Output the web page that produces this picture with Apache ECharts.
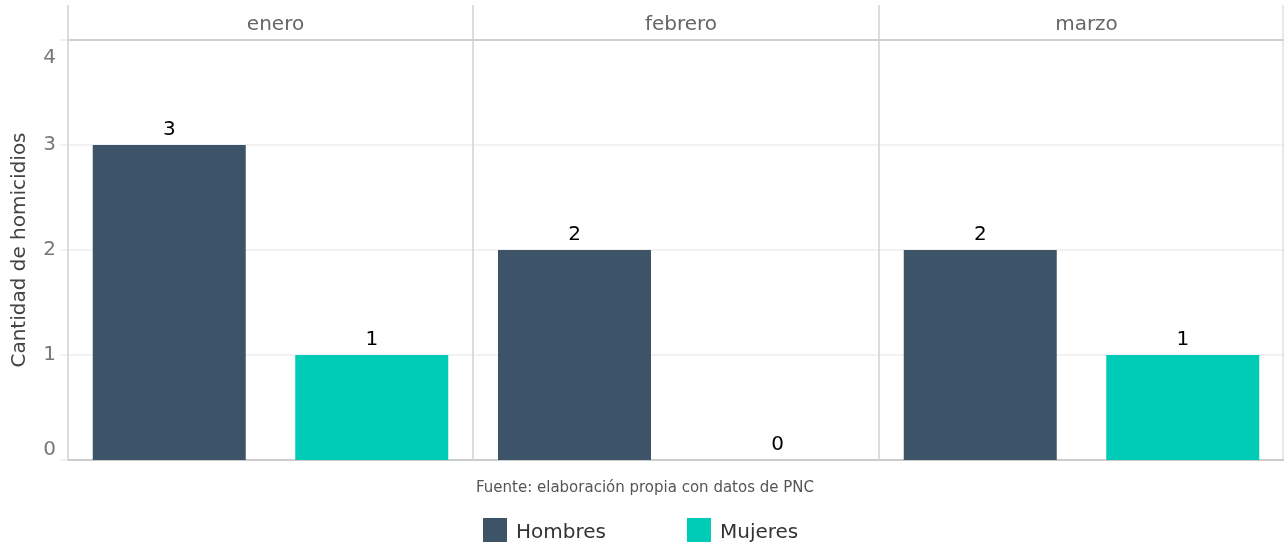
<!DOCTYPE html>
<html>
<head>
<meta charset="utf-8">
<script src="https://cdn.jsdelivr.net/npm/echarts@6/dist/echarts.min.js"></script>
<style>
  html, body { margin: 0; padding: 0; background: #ffffff; }
  #chart { width: 1284px; height: 546px; }
</style>
</head>
<body>
<div id="chart"></div>
<script>
// Homicidios por mes y sexo
const months = ['enero', 'febrero', 'marzo'];
const sexes = ['Hombres', 'Mujeres'];
const hombres = [3, 2, 2];
const mujeres = [1, 0, 1];
const yTicks = [0, 1, 2, 3, 4];
const caption = 'Fuente: elaboración propia con datos de PNC';
const yTitle = 'Cantidad de homicidios';

const colors = { Hombres: '#3d5468', Mujeres: '#00cbb6' };
const FONT = '"DejaVu Sans", Verdana, sans-serif';

const chart = echarts.init(document.getElementById('chart'), null, { renderer: 'canvas' });

// panel geometry (one grid per month)
const panelLefts = [68, 473, 879];
const panelWidths = [405, 406, 405];
const gridTop = 40, gridBottom = 86;
const yMax = yTicks[yTicks.length - 1];

const grids = [], xAxes = [], yAxes = [], series = [], titles = [];
months.forEach((m, i) => {
  grids.push({ left: panelLefts[i], width: panelWidths[i], top: gridTop, bottom: gridBottom, containLabel: false });
  xAxes.push({
    type: 'category', gridIndex: i, data: sexes,
    axisLine: { show: true, lineStyle: { color: '#cccccc', width: 2 } },
    axisTick: { show: false }, axisLabel: { show: false }, splitLine: { show: false }
  });
  yAxes.push({
    type: 'value', gridIndex: i, min: yTicks[0], max: yMax, interval: 1,
    name: i === 0 ? yTitle : '',
    nameLocation: 'middle', nameGap: 38, nameRotate: 90,
    nameTextStyle: { color: '#444444', fontSize: 20, fontFamily: FONT },
    axisLine: { show: false },
    axisTick: { show: i === 0, length: 8, lineStyle: { color: '#eeeeee', width: 1.5 } },
    axisLabel: {
      show: i === 0, color: '#777777', fontSize: 20, fontFamily: FONT, margin: 12,
      verticalAlignMinLabel: 'bottom', verticalAlignMaxLabel: 'top',
      formatter: v => (v === yMax ? '{hi|' + v + '}' : String(v)),
      rich: { hi: { color: '#777777', fontSize: 20, fontFamily: FONT, padding: [8, 0, 0, 0] } }
    },
    splitLine: { show: true, lineStyle: { color: '#eeeeee', width: 1.5 } }
  });
  titles.push({
    text: m, left: panelLefts[i] + panelWidths[i] / 2, top: 10, textAlign: 'center',
    textStyle: { color: '#666666', fontSize: 20, fontWeight: 'normal', fontFamily: FONT }
  });
  const vals = [hombres[i], mujeres[i]];
  series.push({
    type: 'bar', xAxisIndex: i, yAxisIndex: i, barWidth: 153, name: 'panel-' + m,
    data: vals.map((v, k) => ({ value: v, itemStyle: { color: colors[sexes[k]] } })),
    label: { show: true, position: 'top', distance: 5, color: '#000000', fontSize: 20, fontFamily: FONT },
    emphasis: { disabled: true }, animation: false
  });
});

// legend entries: empty scatter series so the bar layout is untouched
sexes.forEach(s => {
  series.push({ type: 'scatter', name: s, xAxisIndex: 0, yAxisIndex: 0, data: [], itemStyle: { color: colors[s], opacity: 1 }, animation: false });
});

titles.push({
  text: caption, left: 640, top: 476, textAlign: 'center',
  textStyle: { color: '#555555', fontSize: 15, fontWeight: 'normal', fontFamily: FONT }
});

// panel frame: strip rule and vertical separators
const frameColor = '#d0d0d0';
const graphics = [
  { type: 'line', shape: { x1: 68, y1: 40, x2: 1284, y2: 40 }, style: { stroke: frameColor, lineWidth: 2 }, z: 10 }
];
[68, 473, 879, 1283].forEach(x => {
  graphics.push({ type: 'line', shape: { x1: x, y1: 5, x2: x, y2: 460 }, style: { stroke: frameColor, lineWidth: x === 1283 ? 1 : 1.5 }, z: 10 });
});

chart.setOption({
  backgroundColor: '#ffffff',
  animation: false,
  title: titles,
  grid: grids,
  xAxis: xAxes,
  yAxis: yAxes,
  series: series,
  graphic: graphics,
  legend: {
    data: sexes, left: 483, top: 518, padding: 0, itemWidth: 24, itemHeight: 24, itemGap: 81,
    icon: 'rect', selectedMode: false,
    itemStyle: { opacity: 1 },
    formatter: '{t|{name}}',
    textStyle: {
      color: '#333333', fontSize: 20, fontFamily: FONT, padding: [0, 0, 0, 4],
      rich: { t: { color: '#333333', fontSize: 20, fontFamily: FONT, padding: [6, 0, 0, 0] } }
    }
  }
});
</script>
</body>
</html>
